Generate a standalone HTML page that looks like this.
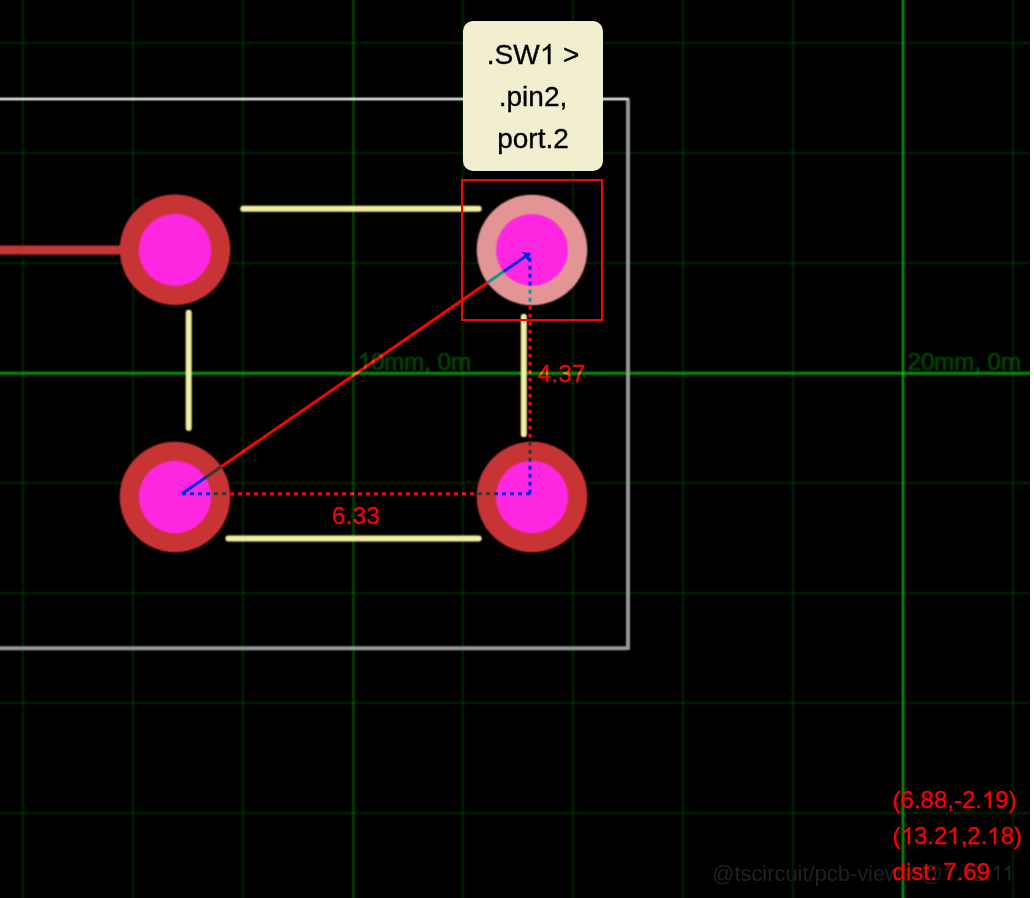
<!DOCTYPE html>
<html>
<head>
<meta charset="utf-8">
<title>pcb-viewer</title>
<style>
  html, body { margin: 0; padding: 0; background: #fff; }
  body { width: 1034px; height: 898px; overflow: hidden; position: relative;
         font-family: "Liberation Sans", sans-serif; }
  #view { position: absolute; left: 0; top: 0; width: 1030px; height: 898px;
          background: #000; overflow: hidden; isolation: isolate; }
  #view > svg { position: absolute; left: 0; top: 0; }
  svg.one { display: inline-block; width: 0.5562em; height: 0.7173em; vertical-align: baseline;
            fill: currentColor; stroke: currentColor; stroke-width: 26; overflow: visible; }
  svg.one.k { margin-left: -0.06em; }
  #wm svg.one { stroke-width: 0; }
  .glabel { position: absolute; color: rgb(0,74,0); font-size: 24px; line-height: 24px;
            white-space: nowrap; filter: blur(0.8px); }
  #hl { position: absolute; left: 461px; top: 179px; width: 138px; height: 138px;
        border: 2px solid #ff0000; }
  #tip { position: absolute; left: 463px; top: 21px; width: 116px; height: 126px;
         padding: 12.7px 12px 11.3px 12px; background: #f2efd0; border-radius: 10px; color: #000;
         font-size: 28px; line-height: 42px; text-align: center; -webkit-text-stroke: 0.35px #000; will-change: transform; }
  .diff { mix-blend-mode: difference; }
  .dlabel { position: absolute; color: #ff0000; font-size: 24px; line-height: 24px;
            white-space: nowrap; mix-blend-mode: difference; -webkit-text-stroke: 0.3px #ff0000; letter-spacing: 0.35px; }
  #readout { position: absolute; left: 892.6px; top: 782px; color: #ff0000;
             font-size: 24px; line-height: 36px; white-space: nowrap; -webkit-text-stroke: 0.3px #ff0000; }
  #wm { position: absolute; left: 712.1px; top: 855.5px; color: #202020;
        font-size: 22px; line-height: 36px; white-space: nowrap; letter-spacing: -0.05px; }
</style>
</head>
<body>
<div id="view">

  <!-- grid layer -->
  <svg id="grid" width="1030" height="898" viewBox="0 0 1030 898">
    <defs>
      <filter id="soft" filterUnits="userSpaceOnUse" x="0" y="0" width="1030" height="898" color-interpolation-filters="sRGB">
        <feConvolveMatrix order="3" kernelMatrix="1 2 1 2 4 2 1 2 1" divisor="16" edgeMode="duplicate"/>
      </filter>
    </defs>
    <g filter="url(#soft)">
      <g stroke="#00ff00" stroke-width="2" fill="none">
        <path stroke-opacity="0.135" d="M23,-5V903 M133,-5V903 M243,-5V903 M463,-5V903 M573,-5V903 M683,-5V903 M793,-5V903 M1013,-5V903"/>
        <path stroke-opacity="0.135" d="M-5,43H1035 M-5,153H1035 M-5,263H1035 M-5,483H1035 M-5,593H1035 M-5,703H1035 M-5,813H1035"/>
        <path stroke-opacity="0.34" d="M353.4,-5V903"/>
        <path stroke-opacity="0.6" stroke-width="2.5" d="M903,-5V903"/>
        <path stroke-opacity="0.57" stroke-width="3" d="M-5,373.25H1035"/>
      </g>
      <g fill="#00ff00" stroke="#00ff00" stroke-width="0.7" opacity="0.27" font-family="Liberation Sans, sans-serif" font-size="24">
        <path transform="translate(357.6,369.5) scale(0.01171875)" d="M763 0H583V-1147Q518 -1085 412.5 -1023T223 -930V-1104Q373 -1175 486 -1275T646 -1469H763Z" stroke-width="50"/><text x="370.95" y="369.5">0mm, 0m</text>
        <text x="907.6" y="369.5">20mm, 0m</text>
      </g>
    </g>
  </svg>

  <!-- pcb layer -->
  <svg id="pcb" width="1030" height="898" viewBox="0 0 1030 898">
    <g filter="url(#soft)">
    <!-- board outline -->
    <path d="M-10,99 H628" fill="none" stroke="rgb(242,242,242)" stroke-width="2.6" stroke-linecap="round"/>
    <path d="M628,99.5 V647.5" fill="none" stroke="rgb(150,150,150)" stroke-width="4" stroke-linecap="butt"/>
    <path d="M-10,648.2 H628" fill="none" stroke="rgb(152,152,152)" stroke-width="4" stroke-linecap="round"/>
    <!-- trace -->
    <path d="M-10,250 H175" stroke="#c83434" stroke-width="9" fill="none"/>
    <!-- pads -->
    <circle cx="175" cy="249.7" r="55.3" fill="#c83434"/>
    <circle cx="175" cy="497" r="55.3" fill="#c83434"/>
    <circle cx="532" cy="497" r="55.3" fill="#c83434"/>
    <circle cx="532" cy="250" r="55.3" fill="#e39595"/>
    <!-- holes -->
    <circle cx="175" cy="249.9" r="36.2" fill="#ff26e2"/>
    <circle cx="175" cy="497" r="36.2" fill="#ff26e2"/>
    <circle cx="532" cy="497" r="36.2" fill="#ff26e2"/>
    <circle cx="532" cy="249.9" r="36" fill="#ff26e2"/>
    <!-- silkscreen -->
    <g stroke="#f2eda1" stroke-width="6" stroke-linecap="round" fill="none">
      <path d="M243.2,208.8 H478.7"/>
      <path d="M228.4,538.4 H478.7"/>
      <path d="M188.7,312.8 V428"/>
      <path d="M523.8,316.8 V434.2"/>
    </g>
    </g>
  </svg>

  <!-- watermark -->
  <div id="wm">@tscircuit/pcb-viewer@<svg class="one" viewBox="0 0 1139 1469"><path d="M763 1469H583V322Q518 384 412.5 446T223 539V365Q373 294 486 194T646 0H763Z"/></svg>.<svg class="one" viewBox="0 0 1139 1469"><path d="M763 1469H583V322Q518 384 412.5 446T223 539V365Q373 294 486 194T646 0H763Z"/></svg>2.<svg class="one" viewBox="0 0 1139 1469"><path d="M763 1469H583V322Q518 384 412.5 446T223 539V365Q373 294 486 194T646 0H763Z"/></svg><svg class="one k" viewBox="0 0 1139 1469"><path d="M763 1469H583V322Q518 384 412.5 446T223 539V365Q373 294 486 194T646 0H763Z"/></svg></div>

  <!-- dimension overlay -->
  <svg class="diff" width="1030" height="898" viewBox="0 0 1030 898">
    <defs>
      <marker id="head" orient="auto" markerWidth="3" markerHeight="4" refX="2" refY="2">
        <path d="M0,0 V4 L2,2 Z" fill="#ff0000"/>
      </marker>
    </defs>
    <line x1="182" y1="493.7" x2="530" y2="253.3" stroke="#ff0000" stroke-width="3" marker-end="url(#head)"/>
    <line x1="182" y1="493.7" x2="530" y2="493.7" stroke="#ff0000" stroke-width="3" stroke-dasharray="4,4"/>
    <line x1="530" y1="493.7" x2="530" y2="253.3" stroke="#ff0000" stroke-width="3" stroke-dasharray="4,4"/>
  </svg>
  <div class="dlabel" style="left:332px; top:504px;">6.33</div>
  <div class="dlabel" style="left:537.7px; top:362px;">4.37</div>
  <!-- highlight box + tooltip -->
  <div id="hl"></div>
  <div id="tip">.SW<svg class="one" viewBox="0 0 1139 1469"><path d="M763 1469H583V322Q518 384 412.5 446T223 539V365Q373 294 486 194T646 0H763Z"/></svg> &gt; .pin2, port.2</div>

  <div id="readout">(6.88,-2.<svg class="one" viewBox="0 0 1139 1469"><path d="M763 1469H583V322Q518 384 412.5 446T223 539V365Q373 294 486 194T646 0H763Z"/></svg>9)<br>(<svg class="one" viewBox="0 0 1139 1469"><path d="M763 1469H583V322Q518 384 412.5 446T223 539V365Q373 294 486 194T646 0H763Z"/></svg>3.2<svg class="one" viewBox="0 0 1139 1469"><path d="M763 1469H583V322Q518 384 412.5 446T223 539V365Q373 294 486 194T646 0H763Z"/></svg>,2.<svg class="one" viewBox="0 0 1139 1469"><path d="M763 1469H583V322Q518 384 412.5 446T223 539V365Q373 294 486 194T646 0H763Z"/></svg>8)<br>dist: 7.69</div>

</div>
</body>
</html>
